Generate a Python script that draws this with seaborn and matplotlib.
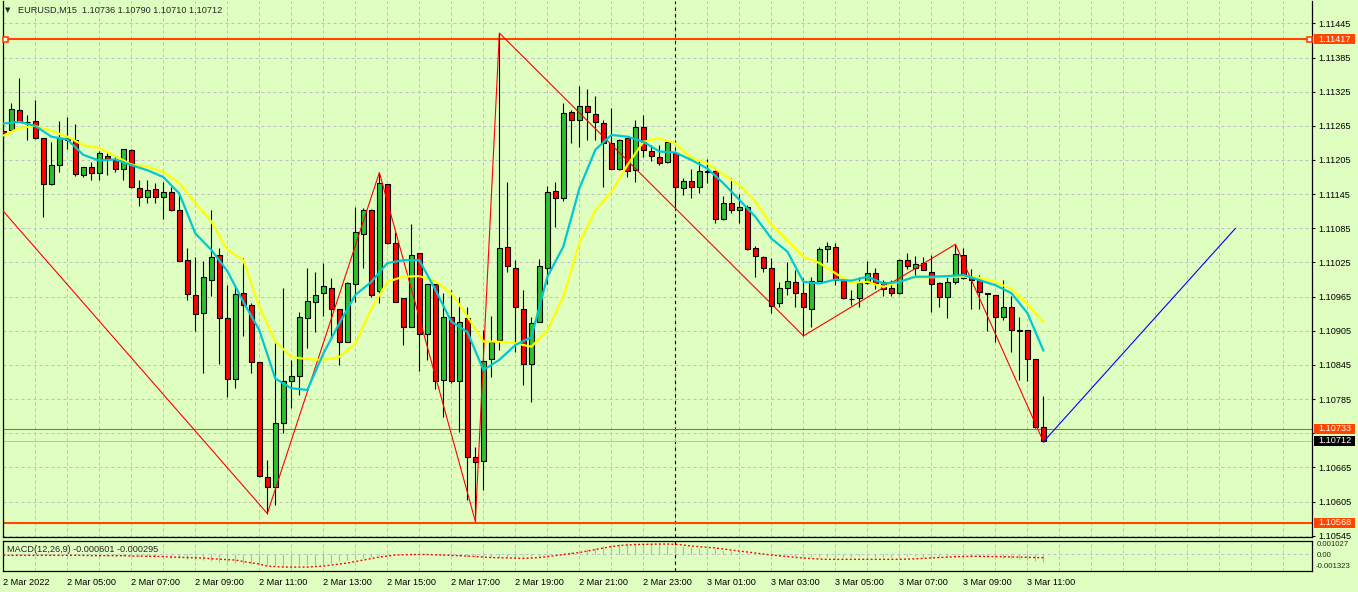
import matplotlib
matplotlib.use("Agg")
import matplotlib.pyplot as plt
import matplotlib.transforms as mtransforms
from matplotlib.patches import Rectangle
import numpy as np
import seaborn as sns

# ---------------- data (EURUSD M15, 2 Mar 2022 03:00 .. 3 Mar 2022 11:30) ----------------
opens = [1.11256,1.11258,1.11292,1.11272,1.11274,1.11243,1.11162,1.11196,1.11243,1.11241,
         1.11178,1.11192,1.11182,1.11212,1.11205,1.11189,1.11223,1.11155,1.11140,1.11154,
         1.11140,1.11148,1.11118,1.11030,1.10967,1.10936,1.10994,1.11038,1.10927,1.10821,
         1.10971,1.10951,1.10850,1.10649,1.10630,1.10743,1.10816,1.10826,1.10927,1.10956,
         1.10971,1.10981,1.10943,1.10886,1.10987,1.11075,1.11118,1.10974,1.11162,1.11060,
         1.10962,1.10912,1.11041,1.10899,1.10988,1.10818,1.10929,1.10816,1.10927,1.10683,
         1.10677,1.10855,1.10888,1.11052,1.11016,1.10944,1.10847,1.10921,1.11016,1.11151,
         1.11139,1.11289,1.11275,1.11300,1.11286,1.11270,1.11234,1.11189,1.11243,1.11187,
         1.11263,1.11221,1.11211,1.11201,1.11218,1.11155,1.11168,1.11158,1.11186,1.11186,
         1.11101,1.11129,1.11117,1.11123,1.11050,1.11035,1.11015,1.10953,1.10980,1.10990,
         1.10971,1.10944,1.10993,1.11048,1.11052,1.10995,1.10961,1.10962,1.10989,1.11006,
         1.10991,1.10980,1.10971,1.11030,1.11016,1.11024,1.11009,1.10989,1.10965,1.10990,
         1.11038,1.10997,1.10994,1.10971,1.10967,1.10929,1.10946,1.10906,1.10906,1.10855,
         1.10736]
highs = [1.11258,1.11305,1.11349,1.11284,1.11310,1.11244,1.11236,1.11273,1.11281,1.11268,
         1.11193,1.11201,1.11220,1.11217,1.11210,1.11225,1.11224,1.11170,1.11170,1.11164,
         1.11166,1.11158,1.11145,1.11050,1.11034,1.11028,1.11117,1.11050,1.10985,1.10985,
         1.11032,1.10953,1.10850,1.10678,1.10884,1.10980,1.10854,1.10938,1.11015,1.11009,
         1.11024,1.10997,1.10944,1.10990,1.11123,1.11120,1.11119,1.11183,1.11163,1.11079,
         1.10963,1.11092,1.11042,1.10988,1.10988,1.10971,1.10977,1.10965,1.10947,1.10701,
         1.10906,1.10931,1.11428,1.11167,1.11029,1.10977,1.10929,1.11031,1.11159,1.11167,
         1.11305,1.11293,1.11335,1.11329,1.11317,1.11276,1.11297,1.11242,1.11244,1.11276,
         1.11284,1.11231,1.11231,1.11240,1.11219,1.11173,1.11189,1.11205,1.11206,1.11187,
         1.11142,1.11173,1.11146,1.11126,1.11054,1.11036,1.11033,1.10991,1.11025,1.11012,
         1.10997,1.11000,1.11053,1.11061,1.11060,1.10996,1.10977,1.11000,1.11028,1.11015,
         1.10995,1.10995,1.11031,1.11041,1.11036,1.11035,1.11038,1.10990,1.11000,1.11057,
         1.11050,1.11013,1.11003,1.10972,1.10968,1.10995,1.10966,1.10929,1.10907,1.10856,
         1.10790]
lows = [1.11219,1.11256,1.11271,1.11241,1.11242,1.11104,1.11161,1.11184,1.11225,1.11177,
        1.11175,1.11170,1.11169,1.11179,1.11184,1.11169,1.11156,1.11125,1.11129,1.11129,
        1.11101,1.11116,1.11027,1.10959,1.10905,1.10830,1.10966,1.10847,1.10788,1.10804,
        1.10896,1.10830,1.10649,1.10584,1.10599,1.10726,1.10769,1.10792,1.10874,1.10903,
        1.10931,1.10892,1.10844,1.10885,1.10956,1.11015,1.10964,1.10953,1.11058,1.10955,
        1.10880,1.10911,1.10835,1.10854,1.10802,1.10754,1.10814,1.10728,1.10608,1.10570,
        1.10626,1.10824,1.10871,1.11009,1.10868,1.10810,1.10780,1.10920,1.10988,1.11088,
        1.11133,1.11234,1.11227,1.11240,1.11240,1.11157,1.11189,1.11187,1.11176,1.11167,
        1.11211,1.11204,1.11196,1.11200,1.11122,1.11143,1.11139,1.11147,1.11165,1.11095,
        1.11100,1.11112,1.11095,1.11047,1.11000,1.11009,1.10936,1.10946,1.10968,1.10947,
        1.10896,1.10912,1.10992,1.11026,1.10985,1.10961,1.10950,1.10947,1.10988,1.10978,
        1.10966,1.10966,1.10970,1.11013,1.11003,1.11011,1.10938,1.10947,1.10928,1.10987,
        1.10996,1.10943,1.10944,1.10905,1.10886,1.10924,1.10868,1.10818,1.10817,1.10735,
        1.10710]
closes = [1.11252,1.11294,1.11272,1.11271,1.11243,1.11162,1.11196,1.11243,1.11240,1.11180,
          1.11192,1.11183,1.11217,1.11206,1.11190,1.11224,1.11157,1.11140,1.11152,1.11140,
          1.11148,1.11118,1.11028,1.10969,1.10934,1.10999,1.11035,1.10927,1.10821,1.10969,
          1.10950,1.10851,1.10650,1.10631,1.10743,1.10817,1.10826,1.10929,1.10957,1.10968,
          1.10984,1.10943,1.10885,1.10989,1.11079,1.11118,1.10967,1.11164,1.11059,1.10956,
          1.10912,1.11038,1.10899,1.10987,1.10817,1.10929,1.10816,1.10921,1.10683,1.10675,
          1.10852,1.10886,1.11050,1.11018,1.10946,1.10847,1.10919,1.11018,1.11149,1.11139,
          1.11287,1.11275,1.11300,1.11289,1.11271,1.11234,1.11190,1.11241,1.11186,1.11263,
          1.11223,1.11212,1.11199,1.11237,1.11157,1.11168,1.11158,1.11186,1.11184,1.11101,
          1.11129,1.11117,1.11123,1.11048,1.11036,1.11015,1.10949,1.10981,1.10992,1.10971,
          1.10946,1.10993,1.11048,1.11054,1.10995,1.10962,1.10960,1.10989,1.11006,1.10989,
          1.10978,1.10971,1.11030,1.11018,1.11022,1.11012,1.10987,1.10965,1.10990,1.11039,
          1.10997,1.10994,1.10973,1.10970,1.10929,1.10946,1.10906,1.10905,1.10855,1.10736,
          1.10712]

time_label_bars = list(range(0, 131, 8))
time_labels = ["2 Mar 2022", "2 Mar 05:00", "2 Mar 07:00", "2 Mar 09:00", "2 Mar 11:00",
               "2 Mar 13:00", "2 Mar 15:00", "2 Mar 17:00", "2 Mar 19:00", "2 Mar 21:00",
               "2 Mar 23:00", "3 Mar 01:00", "3 Mar 03:00", "3 Mar 05:00", "3 Mar 07:00",
               "3 Mar 09:00", "3 Mar 11:00"]

ma_bars = list(range(0, 131, 2))
ma_fast = [1.11269,1.11272,1.11265,1.11246,1.11241,1.11214,1.11204,1.11206,1.11196,1.11187,
           1.11175,1.11146,1.11076,1.11047,1.11010,1.10956,1.10906,1.10821,1.10804,1.10801,
           1.10865,1.10918,1.10968,1.10991,1.11024,1.11029,1.11029,1.10977,1.10921,1.10903,
           1.10836,1.10854,1.10880,1.10894,1.11000,1.11053,1.11155,1.11223,1.11249,1.11246,
           1.11237,1.11220,1.11218,1.11205,1.11190,1.11164,1.11135,1.11105,1.11067,1.11044,
           1.10991,1.10988,1.10995,1.10993,1.11000,1.10988,1.10991,1.11000,1.11000,1.11001,
           1.11003,1.10994,1.10985,1.10971,1.10936,1.10870]
ma_slow = [1.11248,1.11261,1.11265,1.11256,1.11246,1.11231,1.11226,1.11212,1.11197,1.11193,
           1.11184,1.11164,1.11129,1.11097,1.11047,1.11029,1.10947,1.10886,1.10859,1.10855,
           1.10854,1.10859,1.10883,1.10944,1.10991,1.11000,1.11001,1.10992,1.10971,1.10930,
           1.10886,1.10886,1.10883,1.10877,1.10906,1.10965,1.11059,1.11117,1.11149,1.11196,
           1.11237,1.11243,1.11234,1.11208,1.11199,1.11179,1.11161,1.11132,1.11091,1.11064,
           1.11035,1.11024,1.11006,1.10989,1.10991,1.10982,1.10991,1.10999,1.10999,1.11000,
           1.11000,1.10998,1.10991,1.10978,1.10952,1.10920]

zigzag_bars = [0, 33, 47, 59, 62, 100, 119, 130]
zigzag_prices = [1.11115, 1.10584, 1.11183, 1.10570, 1.11428, 1.10896, 1.11057, 1.10710]
projection_bars = [130, 154]
projection_prices = [1.10710, 1.11085]

resistance_level = 1.11417
level_mid = 1.10733
support_level = 1.10568
bid_price = 1.10712

price_grid = [1.11445, 1.11385, 1.11325, 1.11265, 1.11205, 1.11145, 1.11085, 1.11025,
              1.10965, 1.10905, 1.10845, 1.10785, 1.10725, 1.10665, 1.10605, 1.10545]
price_labels = ["1.11445", "1.11385", "1.11325", "1.11265", "1.11205", "1.11145", "1.11085",
                "1.11025", "1.10965", "1.10905", "1.10845", "1.10785", "", "1.10665",
                "1.10605", "1.10545"]

# MACD(12,26,9) in millionths
macd_main_micro = [-80,-82,-85,-85,-88,-90,-92,-95,-98,-100,-105,-110,
                   -124,-124,-140,-163,-163,-186,-202,-217,-241,
                   -279,-318,-372,-435,-497,-551,
                   -605,-652,-706,-745,-784,-823,
                   -861,-885,-900,-900,-885,-861,-823,
                   -745,-667,-574,-473,-396,-318,-241,-163,
                   -85,-31,8,31,31,8,-31,-85,
                   -124,-163,-202,-225,-241,-241,-241,-225,-202,-178,-163,-124,-85,-31,
                   31,147,264,380,497,613,691,768,
                   823,823,807,784,753,706,652,
                   598,551,497,435,365,303,225,147,85,31,-31,
                   -85,-124,-163,-186,-202,-217,-217,-217,
                   -217,-202,-202,-186,-186,-202,-217,-217,-202,-186,-186,-202,-217,-241,-241,-225,-217,
                   -217,-241,-264,-279,-303,-341,-380,-435,-512,-601]
macd_signal_micro = [-109,-109,-109,-109,-109,-109,-109,-109,-109,-109,-109,
                     -132,-132,-132,-132,-132,
                     -163,-170,-178,-186,-202,
                     -241,-256,-279,-295,-318,
                     -372,-411,-442,-473,
                     -590,-691,-784,
                     -939,-978,-1017,-1017,-1017,-1017,-978,-939,
                     -861,-784,-706,-590,-473,
                     -357,-241,-163,-85,-62,
                     -47,-47,-47,-62,-85,-109,-140,-163,
                     -202,-241,-279,-295,-318,-334,-341,-318,-279,
                     -202,-124,-47,31,109,225,
                     341,458,574,652,691,729,745,
                     753,768,768,745,691,
                     613,559,512,458,380,303,225,
                     147,70,-8,-85,-147,-202,
                     -264,-318,-357,-396,-419,
                     -419,-419,-419,-419,-419,-419,-419,-419,-419,
                     -396,-372,-341,-318,-279,-241,-217,-202,
                     -186,-186,-202,-202,-217,-225,-241,-256,-279,-295]
macd_max = 0.001027
macd_min = -0.001323

# ---------------- style ----------------
BG = "#DEFFC0"
GRID = "#BEBEC8"
BULL = "#2FC02F"
BEAR = "#FF0000"
ORANGE = "#FF4500"
FS = 6.6

sns.set_style("white")
plt.rcParams["font.family"] = ["Liberation Sans", "DejaVu Sans"]

W_PX, H_PX = 1358, 592
fig = plt.figure(figsize=(W_PX / 100, H_PX / 100), dpi=100, facecolor=BG)

left_px, right_px = 2.7, 1312.3
main_top_px, main_bot_px = 1.0, 537.3
macd_top_px, macd_bot_px = 540.7, 571.0

def rect(top, bot):
    return [left_px / W_PX, 1 - bot / H_PX, (right_px - left_px) / W_PX, (bot - top) / H_PX]

ax = fig.add_axes(rect(main_top_px, main_bot_px))
ax2 = fig.add_axes(rect(macd_top_px, macd_bot_px), sharex=ax)
for a in (ax, ax2):
    a.set_facecolor(BG)
    for s in a.spines.values():
        s.set_color("black")
        s.set_linewidth(0.9)

ymin, ymax = 1.105422, 1.114843
ax.set_ylim(ymin, ymax)
ax.set_xlim(-0.075, 163.6)
ax.spines["top"].set_visible(False)
ax2.set_ylim(macd_min, macd_max)

bars = np.arange(len(opens))
o = np.array(opens); h = np.array(highs); l = np.array(lows); c = np.array(closes)

# grid
for p in price_grid:
    ax.axhline(p, color=GRID, lw=0.72, ls=(0, (3, 3)), zorder=0.5)
for xb in range(4, 164, 4):
    for a in (ax, ax2):
        a.axvline(xb, color=GRID, lw=0.72, ls=(0, (3, 3)), zorder=0.5)
ax2.axhline(0, color=GRID, lw=0.72, ls=(0, (3, 3)), zorder=0.5)

# period separator (day change)
for a in (ax, ax2):
    a.axvline(84, color="black", lw=0.8, ls=(0, (3, 3)), zorder=1)

# horizontal levels
ax.axhline(resistance_level, color=ORANGE, lw=1.5, zorder=2)
ax.axhline(support_level, color=ORANGE, lw=1.5, zorder=2)
ax.axhline(level_mid, color=ORANGE, lw=0.75, zorder=2)
ax.axhline(bid_price, color="#C0C0C0", lw=0.75, zorder=2)
ax.plot([0.2, 163.2], [resistance_level] * 2, ls="none", marker="s", ms=3.6,
        mfc="white", mec=ORANGE, mew=1.2, zorder=6, clip_on=False)

# candles
ax.vlines(bars, l, h, color="black", lw=0.8, zorder=3)
body_bottom = np.minimum(o, c)
body_h = np.maximum(np.abs(c - o), 1.0e-5)
colors = np.where(c > o, BULL, BEAR)
ax.bar(bars, body_h, bottom=body_bottom, width=0.62, color=colors,
       edgecolor="black", linewidth=0.8, zorder=4)

# zigzag + projection
sns.lineplot(x=zigzag_bars, y=zigzag_prices, ax=ax, color="#FF0000", lw=0.8,
             sort=False, zorder=5)
sns.lineplot(x=projection_bars, y=projection_prices, ax=ax, color="#0000FF", lw=0.8,
             sort=False, zorder=5)
# moving averages
sns.lineplot(x=ma_bars, y=ma_slow, ax=ax, color="#FFFF00", lw=1.6, zorder=6)
sns.lineplot(x=ma_bars, y=ma_fast, ax=ax, color="#00C8D2", lw=1.6, zorder=7)

# axes ticks main
ax.yaxis.tick_right()
ax.set_yticks(price_grid)
ax.set_yticklabels(price_labels)
ax.tick_params(axis="y", direction="out", length=2.2, width=0.75, pad=2.2,
               labelsize=FS, colors="black")
ax.tick_params(axis="x", bottom=False, labelbottom=False)
ax.set_xlabel(""); ax.set_ylabel("")

# price tags
ppp = (ymax - ymin) / (main_bot_px - main_top_px)  # price per pixel
trans = mtransforms.blended_transform_factory(ax.transAxes, ax.transData)
axw = right_px - left_px
def tag(price, face):
    x0 = 1 + 1.5 / axw
    wd = 41.5 / axw
    ax.add_patch(Rectangle((x0, price - 5 * ppp), wd, 10 * ppp, transform=trans,
                           facecolor=face, edgecolor="none", clip_on=False, zorder=10))
    ax.text(x0 + wd / 2, price, f"{price:.5f}", transform=trans, ha="center",
            va="center", color="white", fontsize=FS, clip_on=False, zorder=11)
tag(resistance_level, ORANGE)
tag(level_mid, ORANGE)
tag(bid_price, "black")
tag(support_level, ORANGE)

# MACD panel
macd_main = np.array(macd_main_micro) * 1e-6
macd_signal = np.array(macd_signal_micro) * 1e-6
ax2.vlines(bars, 0, macd_main, color="#B4B4B4", lw=0.8, zorder=2)
sns.lineplot(x=bars, y=macd_signal, ax=ax2, color="#FF0000", lw=1.0, zorder=3)
ax2.lines[-1].set_dashes([1.4, 1.6])
ax2.set_yticks([])
ax2.set_xlabel(""); ax2.set_ylabel("")
ax2.set_xticks(time_label_bars)
ax2.set_xticklabels(time_labels)
ax2.tick_params(axis="x", direction="out", length=2.5, width=0.75, pad=2.5,
                labelsize=FS, colors="black")
for lbl in ax2.get_xticklabels():
    lbl.set_horizontalalignment("left")
ax.set_xlim(-0.075, 163.6)

# MACD scale labels (slightly spread so they do not collide)
tx = 1 + 4.4 / axw
MFS = 5.6
ax2.text(tx, 0.87, "0.001027", transform=ax2.transAxes, fontsize=MFS, va="center",
         ha="left", clip_on=False)
ax2.text(tx, 0.52, "0.00", transform=ax2.transAxes, fontsize=MFS, va="center",
         ha="left", clip_on=False)
ax2.text(tx - 1.0 / axw, 0.16, "-0.001323", transform=ax2.transAxes, fontsize=MFS,
         va="center", ha="left", clip_on=False)

# headers
fig.text(5 / W_PX, 1 - 10 / H_PX, "\u25BC", fontsize=5, va="center", ha="left",
         family=["DejaVu Sans"])
fig.text(18 / W_PX, 1 - 10 / H_PX,
         "EURUSD,M15  1.10736 1.10790 1.10710 1.10712",
         fontsize=FS, va="center", ha="left")
fig.text(7 / W_PX, 1 - 549 / H_PX, "MACD(12,26,9) -0.000601 -0.000295",
         fontsize=FS, va="center", ha="left")

fig.savefig("out.png", dpi=100, facecolor=BG)
